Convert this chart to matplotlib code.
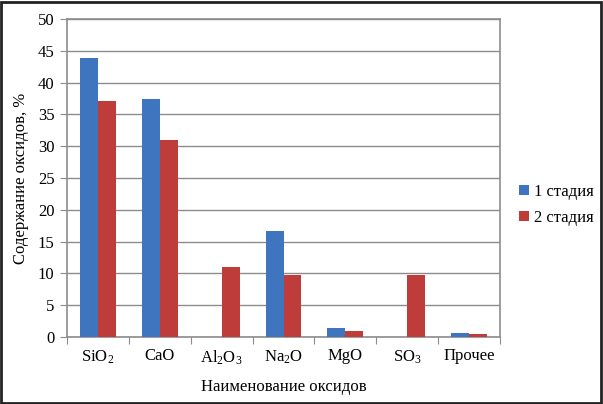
import numpy as np
import matplotlib
matplotlib.use('Agg')
import matplotlib.pyplot as plt
from matplotlib.patches import Rectangle

plt.rcParams['font.family'] = ['Liberation Serif', 'DejaVu Serif']
plt.rcParams['mathtext.fontset'] = 'custom'
plt.rcParams['mathtext.rm'] = 'Liberation Serif'
plt.rcParams['mathtext.it'] = 'Liberation Serif'

# data
oxides = [r'SiO$_2$', 'CaO', r'Al$_2$O$_3$', r'Na$_2$O', 'MgO', r'SO$_3$', 'Прочее']
stage1 = [43.8, 37.5, 0, 16.6, 1.4, 0, 0.7]
stage2 = [37.1, 31.0, 11.0, 9.8, 0.9, 9.8, 0.4]
series_names = ['1 стадия', '2 стадия']

blue = '#3F74BF'
red = '#BE3C3A'

fig = plt.figure(figsize=(6.03, 4.04), dpi=100)
ax = fig.add_axes([67/603, 67/404, 433/603, 318/404])

x = np.arange(len(oxides))
w = 0.29
ax.bar(x - w/2, stage1, w, color=blue, label=series_names[0], zorder=3)
ax.bar(x + w/2, stage2, w, color=red, label=series_names[1], zorder=3)

ax.set_xlim(-0.5, len(oxides) - 0.5)
ax.set_ylim(0, 50)
ax.set_yticks(range(0, 51, 5))
ax.yaxis.grid(True, color='#8c8c8c', linewidth=1.0, zorder=0)

# category ticks sit on the group boundaries
ax.set_xticks(np.arange(-0.5, len(oxides), 1.0))
ax.set_xticklabels([])
ax.set_xticks(x, minor=True)
ax.set_xticklabels(oxides, minor=True, fontsize=12)
ax.tick_params(axis='x', which='minor', length=0, pad=8)
ax.tick_params(axis='x', which='major', length=5, color='#8c8c8c')
ax.tick_params(axis='y', length=5, color='#8c8c8c', labelsize=12, pad=4)

for s in ax.spines.values():
    s.set_color('#8c8c8c')
    s.set_linewidth(1.2)

ax.set_xlabel('Наименование оксидов', fontsize=12, labelpad=9)
ax.set_ylabel('Содержание оксидов, %', fontsize=12, labelpad=6)

ax.legend(loc='center left', bbox_to_anchor=(1.045, 0.415), frameon=False,
          fontsize=12, handlelength=0.55, handleheight=0.55, handletextpad=0.3,
          labelspacing=0.6, borderpad=0, borderaxespad=0)

# outer frame
fig.patches.append(Rectangle((0.002, 0.003), 0.995, 0.993, transform=fig.transFigure,
                             fill=False, edgecolor='#222222', linewidth=2.0))

fig.savefig('out.png', dpi=100)
